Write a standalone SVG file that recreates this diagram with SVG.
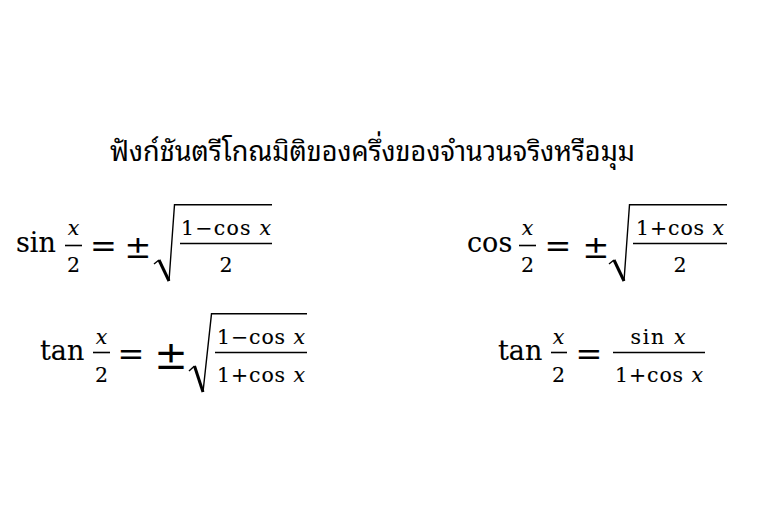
<svg xmlns="http://www.w3.org/2000/svg" width="778" height="532" viewBox="0 0 778 532">
<style>
.m{font-family:"DejaVu Serif","Liberation Serif",serif;fill:#000;stroke:#000;stroke-width:0.12}
.big{font-size:27px}
.sm{font-size:20.5px}
.c{text-anchor:middle}
.i{font-style:italic}
.bar{stroke:#000;stroke-width:1.6}
.rt{fill:none;stroke:#000;stroke-width:1.4;stroke-linejoin:miter}
.rk{fill:none;stroke:#000;stroke-width:3}
.th{font-family:"Noto Sans Thai Looped","Noto Looped Thai","Loma","Garuda","Noto Sans Thai","Noto Sans","DejaVu Sans",sans-serif;font-size:28px;fill:#000}
</style>
<rect width="778" height="532" fill="#fff"/>
<g id="title">
<text class="th" x="110" y="161" textLength="525" lengthAdjust="spacingAndGlyphs">ฟังก์ชันตรีโกณมิติของครึ่งของจำนวนจริงหรือมุม</text>
</g>
<g id="sin-half">
<text class="m big" x="16" y="252">sin</text>
<text class="m sm c i" x="73.5" y="235">x</text>
<line class="bar" x1="65" y1="245.5" x2="82" y2="245.5"/>
<text class="m sm c" x="73.5" y="272">2</text>
<text class="m c" style="font-size:32px" x="103.5" y="257">=</text>
<text class="m c" style="font-size:32px" x="138" y="258">±</text>
<path class="rt" d="M154,264 L159,260"/>
<path class="rk" d="M159,260 L169,281"/>
<path class="rt" d="M169,281 L174.5,204.8 L272,204.8"/>
<text class="m sm c" x="226" y="235" textLength="90" lengthAdjust="spacing">1−cos <tspan class="i">x</tspan></text>
<line class="bar" x1="180" y1="243.5" x2="272" y2="243.5"/>
<text class="m sm c" x="226" y="272">2</text>
</g>
<g id="cos-half">
<text class="m big" x="467" y="252">cos</text>
<text class="m sm c i" x="527.5" y="235">x</text>
<line class="bar" x1="519" y1="245.5" x2="536" y2="245.5"/>
<text class="m sm c" x="527.5" y="272">2</text>
<text class="m c" style="font-size:32px" x="558" y="257">=</text>
<text class="m c" style="font-size:32px" x="596" y="258">±</text>
<path class="rt" d="M609,264 L614,260"/>
<path class="rk" d="M614,260 L624,281"/>
<path class="rt" d="M624,281 L629.5,204.8 L727,204.8"/>
<text class="m sm c" x="680" y="235" textLength="88" lengthAdjust="spacing">1+cos <tspan class="i">x</tspan></text>
<line class="bar" x1="633" y1="243.5" x2="727" y2="243.5"/>
<text class="m sm c" x="680" y="272">2</text>
</g>
<g id="tan-half-sqrt">
<text class="m big" x="40" y="360">tan</text>
<text class="m sm c i" x="101.5" y="344">x</text>
<line class="bar" x1="93" y1="352.5" x2="110" y2="352.5"/>
<text class="m sm c" x="101.5" y="382">2</text>
<text class="m c" style="font-size:32px" x="131" y="365">=</text>
<text class="m c" style="font-size:40px" x="171" y="369">±</text>
<path class="rt" d="M189,371 L194.5,366"/>
<path class="rk" d="M194.5,366 L203,392"/>
<path class="rt" d="M203,392 L211.5,313.8 L307,313.8"/>
<text class="m sm c" x="261" y="344" textLength="88" lengthAdjust="spacing">1−cos <tspan class="i">x</tspan></text>
<line class="bar" x1="215" y1="352.5" x2="307" y2="352.5"/>
<text class="m sm c" x="261" y="382" textLength="88" lengthAdjust="spacing">1+cos <tspan class="i">x</tspan></text>
</g>
<g id="tan-half-frac">
<text class="m big" x="498" y="360">tan</text>
<text class="m sm c i" x="558.5" y="344">x</text>
<line class="bar" x1="551" y1="352.5" x2="567" y2="352.5"/>
<text class="m sm c" x="558.5" y="382">2</text>
<text class="m c" style="font-size:32px" x="589" y="365">=</text>
<line class="bar" x1="613" y1="352.5" x2="705" y2="352.5"/>
<text class="m sm c" x="658" y="344" textLength="55" lengthAdjust="spacing">sin <tspan class="i">x</tspan></text>
<text class="m sm c" x="659" y="382" textLength="88" lengthAdjust="spacing">1+cos <tspan class="i">x</tspan></text>
</g>
</svg>
